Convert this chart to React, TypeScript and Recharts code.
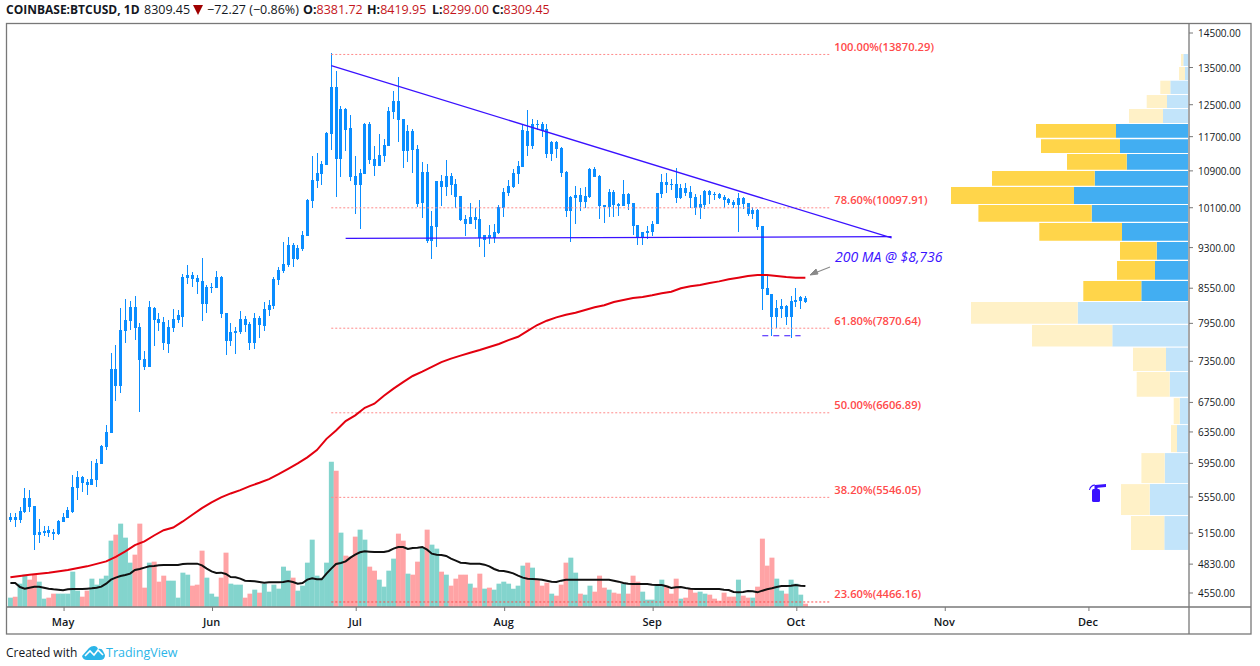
import {
    ComposedChart,
    Bar,
    Line,
    Cell,
    XAxis,
    YAxis,
    ReferenceLine,
    ReferenceArea,
} from "recharts"

// ─── Data ────────────────────────────────────────────────────────────────────

const START_DAY = Date.UTC(2019, 3, 20)
const DAY_COUNT = 247
const DAYS = Array.from({ length: DAY_COUNT }, (_, i) => new Date(START_DAY + i * 86400000).toISOString().slice(0, 10))

const MONTH_TICKS = ["2019-05-01", "2019-06-01", "2019-07-01", "2019-08-01", "2019-09-01", "2019-10-01", "2019-11-01", "2019-12-01"]
const MONTH_NAMES = ["May", "Jun", "Jul", "Aug", "Sep", "Oct", "Nov", "Dec"]

const PRICE_TICKS = [14500, 13500, 12500, 11700, 10900, 10100, 9300, 8550, 7950, 7350, 6750, 6350, 5950, 5550, 5150, 4830, 4550]

const HIGH = [
    5368, 5368, 5432, 5653, 5630, 5447, 5302, 5226, 5226, 5192,
    5291, 5368, 5435, 5808, 5856, 5796, 5760, 5978, 6003, 6180,
    6441, 7476, 7601, 8207, 8361, 8327, 8413, 7955, 7508, 8327,
    8224, 8122, 8055, 8005, 8190, 8173, 8805, 8971, 8842, 8787,
    9102, 8607, 8642, 8860, 8769, 8122, 7955, 7890, 8156, 8072,
    7972, 8122, 8072, 8310, 8344, 8751, 8934, 9408, 9506, 9388,
    9350, 9625, 10284, 11241, 11311, 11125, 11814, 13912, 13404, 12467,
    12416, 12236, 11241, 10943, 12035, 12060, 11476, 11765, 11642, 12441,
    12860, 13238, 12136, 11986, 11887, 11500, 11102, 11056, 10032, 10674,
    10808, 11149, 10852, 10719, 10348, 9949, 10199, 10095, 10263, 9546,
    9745, 9765, 10157, 10521, 10697, 10943, 11125, 11986, 12364, 12136,
    12110, 12060, 12010, 11595, 11595, 11453, 10897, 10348, 10565, 10521,
    10543, 10965, 10988, 10808, 10157, 10499, 10477, 10199, 10697, 10412,
    10199, 9745, 9605, 9725, 9826, 10412, 10830, 10852, 10719, 10965,
    10608, 10630, 10565, 10391, 10370, 10477, 10477, 10434, 10412, 10370,
    10306, 10263, 10412, 10327, 10199, 10115, 10074, 9725, 8769, 8448,
    8344, 8361, 8258, 8413, 8553, 8413, 8420,
]

const BODY_HIGH = [
    5324, 5324, 5390, 5537, 5537, 5447, 5160, 5171, 5181, 5160,
    5280, 5324, 5401, 5665, 5784, 5784, 5724, 5760, 5954, 6167,
    6348, 7233, 7233, 7841, 8005, 8224, 8224, 7890, 7384, 8224,
    8207, 8022, 7972, 7890, 8022, 8089, 8751, 8787, 8787, 8733,
    8678, 8571, 8571, 8751, 8751, 8122, 7808, 7825, 8022, 8022,
    7939, 8039, 8039, 8190, 8258, 8714, 8879, 8990, 9350, 9350,
    9292, 9546, 10263, 10697, 10852, 11056, 11789, 12967, 12967, 12390,
    12390, 11912, 10785, 10852, 12010, 12010, 11172, 11265, 11500, 12338,
    12596, 12596, 12136, 11838, 11838, 11405, 10875, 10875, 9725, 10674,
    10674, 10785, 10785, 10608, 10348, 9867, 9908, 9908, 9867, 9546,
    9546, 9605, 10115, 10434, 10565, 10852, 11011, 11863, 11838, 12010,
    12010, 12010, 11887, 11571, 11571, 11429, 10875, 10327, 10370, 10370,
    10348, 10943, 10943, 10785, 10157, 10434, 10434, 10178, 10391, 10391,
    10199, 9745, 9605, 9625, 9765, 10412, 10652, 10652, 10608, 10608,
    10521, 10521, 10434, 10327, 10178, 10456, 10456, 10391, 10391, 10327,
    10284, 10220, 10306, 10306, 10199, 10053, 10053, 9725, 8553, 8448,
    8207, 8241, 8241, 8327, 8344, 8396, 8382,
]

const BODY_LOW = [
    5291, 5291, 5291, 5376, 5435, 5129, 5129, 5147, 5150, 5140,
    5140, 5269, 5313, 5379, 5653, 5712, 5689, 5689, 5748, 5942,
    6154, 6339, 6983, 6983, 7825, 7989, 7874, 7369, 7263, 7263,
    8005, 7955, 7633, 7617, 7874, 8005, 8055, 8733, 8714, 8660,
    8275, 8275, 8553, 8553, 8105, 7665, 7665, 7792, 7808, 7923,
    7633, 7633, 7923, 7906, 8173, 8241, 8696, 8860, 8971, 9083,
    9083, 9273, 9526, 10242, 10674, 10830, 11034, 11765, 11172, 11172,
    11863, 10763, 10586, 10586, 10830, 11149, 11011, 11011, 11241, 11476,
    12313, 12110, 11358, 11358, 11382, 10178, 10199, 9428, 9428, 9705,
    10543, 10543, 10586, 10327, 9847, 9765, 9765, 9847, 9487, 9447,
    9487, 9487, 9585, 10095, 10412, 10543, 10830, 10988, 11476, 11476,
    11986, 11838, 11288, 11288, 11405, 10852, 10032, 10032, 10306, 10220,
    10220, 10327, 10763, 10136, 10115, 10115, 10157, 10136, 10136, 10178,
    9725, 9506, 9506, 9585, 9605, 9765, 10391, 10586, 10586, 10306,
    10306, 10412, 10306, 10095, 10095, 10157, 10370, 10370, 10306, 10263,
    10199, 10157, 10157, 10178, 9970, 9970, 9705, 8536, 8431, 8055,
    8055, 8190, 8055, 8055, 8310, 8327, 8309,
]

const LOW = [
    5275, 5219, 5258, 5368, 5379, 4974, 5045, 5119, 5108, 5076,
    5129, 5269, 5313, 5368, 5514, 5607, 5572, 5689, 5665, 5942,
    6116, 6339, 6769, 6882, 7633, 7841, 7680, 6617, 7218, 7263,
    7586, 7825, 7523, 7476, 7808, 7955, 7890, 8624, 8571, 8448,
    7989, 8122, 8465, 8553, 8039, 7446, 7586, 7461, 7776, 7808,
    7523, 7539, 7712, 7825, 8072, 8190, 8607, 8823, 8934, 8934,
    9064, 9234, 9526, 10095, 10521, 10586, 11034, 11382, 10327, 10763,
    11358, 10674, 9970, 9665, 10830, 11056, 10785, 11011, 11102, 11476,
    12136, 11571, 10965, 11102, 10852, 10115, 9888, 9388, 9083, 9311,
    10136, 10348, 10370, 10095, 9826, 9526, 9765, 9665, 9311, 9121,
    9369, 9388, 9565, 9908, 10348, 10521, 10608, 10988, 11241, 11405,
    11863, 11694, 11195, 11125, 11195, 10763, 9908, 9408, 9765, 10032,
    10095, 10306, 10763, 9867, 9785, 9908, 9908, 9929, 10136, 10053,
    9546, 9350, 9350, 9467, 9526, 9765, 10306, 10412, 10477, 10199,
    10284, 10348, 10095, 9949, 9867, 10074, 10178, 10263, 10284, 10095,
    10157, 10095, 9605, 10074, 9929, 9867, 9645, 8173, 8431, 7744,
    7874, 8039, 7923, 7712, 8224, 8190, 8299,
]

// volume in hundreds of BTC
const VOLUME = [
    28, 31, 70, 97, 82, 97, 76, 25, 28, 40,
    40, 40, 40, 106, 49, 31, 49, 85, 67, 85,
    94, 199, 217, 250, 208, 133, 157, 250, 58, 133,
    136, 76, 94, 79, 79, 28, 103, 97, 64, 67,
    169, 88, 40, 31, 88, 163, 70, 67, 67, 28,
    40, 52, 43, 70, 46, 67, 55, 121, 109, 88,
    49, 64, 133, 202, 94, 88, 133, 436, 409, 223,
    154, 151, 211, 232, 202, 121, 109, 82, 61, 109,
    145, 220, 199, 100, 97, 136, 177, 232, 187, 175,
    106, 97, 64, 85, 97, 97, 70, 58, 100, 55,
    58, 52, 70, 76, 70, 55, 64, 124, 133, 118,
    82, 64, 73, 40, 34, 67, 133, 148, 103, 40,
    37, 64, 46, 94, 58, 52, 43, 40, 70, 40,
    94, 76, 46, 22, 22, 64, 82, 64, 40, 85,
    25, 28, 55, 43, 46, 40, 37, 25, 19, 43,
    31, 31, 82, 34, 28, 28, 61, 205, 124, 148,
    85, 49, 40, 82, 70, 37, 10,
]

const VOLUME_UP = [
    1, 0, 1, 1, 0, 0, 1, 1, 0, 0,
    1, 1, 1, 1, 1, 0, 0, 1, 1, 1,
    1, 1, 0, 1, 1, 1, 0, 0, 0, 1,
    0, 0, 0, 1, 1, 1, 1, 1, 0, 0,
    0, 1, 1, 1, 0, 0, 1, 1, 1, 0,
    0, 1, 0, 1, 1, 1, 1, 1, 1, 0,
    1, 1, 1, 1, 1, 1, 1, 1, 0, 1,
    0, 0, 0, 1, 1, 0, 0, 1, 1, 1,
    1, 0, 0, 1, 0, 0, 1, 0, 1, 1,
    0, 1, 0, 0, 0, 0, 1, 0, 0, 1,
    0, 1, 1, 1, 1, 1, 1, 1, 0, 1,
    0, 0, 0, 1, 0, 0, 0, 1, 1, 0,
    1, 1, 0, 0, 0, 1, 0, 0, 1, 0,
    0, 0, 1, 1, 1, 1, 1, 0, 0, 0,
    1, 0, 0, 0, 1, 1, 0, 0, 0, 0,
    0, 0, 1, 0, 0, 1, 0, 0, 0, 0,
    1, 1, 0, 1, 1, 1, 0,
]

const VOLUME_MA = [
    72, 72, 60, 55, 58, 61, 61, 58, 55, 53,
    52, 50, 53, 54, 54, 54, 55, 56, 58, 61,
    70, 82, 88, 93, 96, 100, 111, 114, 118, 122,
    123, 125, 126, 126, 126, 126, 129, 130, 130, 130,
    125, 115, 107, 102, 103, 99, 90, 89, 85, 79,
    78, 77, 75, 73, 74, 74, 74, 75, 78, 75,
    70, 72, 82, 86, 83, 83, 100, 115, 129, 132,
    137, 148, 157, 164, 167, 166, 165, 165, 165, 168,
    175, 180, 180, 174, 177, 178,
    180, 172, 160, 157, 156, 153, 145, 139, 133, 132,
    130, 130, 130, 127, 122, 114, 109, 108, 105, 101,
    94, 88, 85, 84, 83, 82, 79, 76, 75, 79,
    82, 82, 82, 82, 82, 82, 82, 82, 82, 82,
    79, 76, 72, 70, 69, 69, 69, 69, 67, 66,
    66, 62, 57, 59, 60, 57, 55, 54, 54, 54,
    54, 54, 54, 52, 51, 45, 44, 45, 48, 47,
    44, 49, 53, 56, 60, 63, 63, 64, 66, 64,
    63,
]

const MA200_DAYS = [
    0, 4, 8, 12, 16, 20, 22, 24, 26, 28, 30, 32, 34, 36, 38, 40, 42, 44, 46, 48,
    50, 52, 54, 56, 58, 60, 62, 64, 66, 68, 70, 72, 74, 76, 78, 80, 82, 84, 86, 88,
    90, 92, 94, 96, 98, 100, 102, 104, 106, 108, 110, 112, 114, 116, 118, 120, 122, 124, 126, 128,
    130, 132, 134, 136, 138, 140, 142, 144, 146, 148, 150, 152, 154, 156, 158, 160, 162, 164, 166,
]
const MA200 = [
    4700, 4725, 4745, 4771, 4808, 4858, 4904, 4959, 5024, 5063, 5125, 5181, 5210, 5276, 5350, 5424, 5488, 5545, 5591, 5630,
    5677, 5716, 5760, 5820, 5884, 5950, 6024, 6116, 6260, 6370, 6495, 6572, 6676, 6732, 6845, 6945, 7040, 7130, 7195, 7265,
    7338, 7391, 7436, 7480, 7523, 7570, 7617, 7680, 7733, 7829, 7923, 7994, 8050, 8094, 8127, 8173, 8219, 8253, 8310, 8344,
    8379, 8396, 8425, 8460, 8488, 8548, 8584, 8607, 8642, 8672, 8709, 8738, 8769, 8787, 8787, 8769, 8751, 8738, 8736,
]

const FIB_PRICES = [13870.29, 10097.91, 7870.64, 6606.89, 5546.05, 4466.16]
const FIB_LABELS = ["100.00%", "78.60%", "61.80%", "50.00%", "38.20%", "23.60%"]

// visible range volume profile, bins from the top down
const VP_HIGH = [13884, 13515, 13137, 12753, 12390, 12010, 11640, 11288, 10897, 10543, 10157, 9785, 9408, 9045, 8678, 8310, 7923, 7560, 7188, 6811, 6441, 6078, 5700, 5335]
const VP_LOW = [13543, 13156, 12780, 12415, 12035, 11675, 11311, 10927, 10571, 10178, 9812, 9434, 9070, 8702, 8327, 7944, 7578, 7203, 6830, 6454, 6090, 5712, 5347, 4974]
const VP_UP = [4.7, 3, 17.7, 21, 25, 72, 68, 61.3, 93.3, 114, 96.3, 66, 31.3, 33, 46.7, 110.3, 75.7, 22, 18.3, 8.3, 11, 23.3, 38.3, 23.7]
const VP_DOWN = [2.3, 6, 10, 20.3, 34, 80, 79, 59.7, 102.7, 123, 113.3, 82.7, 36.7, 38, 58, 106.7, 80.3, 33, 33, 6, 6, 23.3, 28.7, 33.3]
const VP_VALUE_AREA_FIRST = 5
const VP_VALUE_AREA_LAST = 14

const TABLE = DAYS.map((day, i) => ({
    day,
    high: HIGH[i] ?? null,
    low: LOW[i] ?? null,
    bodyHigh: BODY_HIGH[i] ?? null,
    bodyLow: BODY_LOW[i] ?? null,
    volume: VOLUME[i] ?? null,
    volumeMa: VOLUME_MA[i] ?? null,
    ma200: MA200_DAYS.includes(i) ? MA200[MA200_DAYS.indexOf(i)] : null,
}))

// ─── Helpers ─────────────────────────────────────────────────────────────────

const FONT = "'Open Sans', sans-serif"
const CANDLE = "#0a8dff"
const VIOLET = "#3a12ff"
const FRAME = "#787878"

function candlePart(p: any, w: number) {
    if (p.payload.high == null) return null
    const left = Math.round(p.x + p.width / 2 - 1.5)
    const x = w === 3 ? left : left + 1
    return <rect x={x} y={p.y} width={w} height={Math.max(Math.abs(p.height), 1)} fill={CANDLE} shapeRendering="crispEdges" />
}

function PriceTick({ y, payload }: any) {
    return (
        <g>
            <line x1={1189} x2={1193} y1={y} y2={y} stroke={FRAME} />
            <text x={1198} y={y + 4} fontSize={10} fontFamily={FONT} fill="#131722">
                {payload.value.toFixed(2)}
            </text>
        </g>
    )
}

function MonthTick({ x, payload }: any) {
    const name = MONTH_NAMES[MONTH_TICKS.indexOf(payload.value)]
    return (
        <g>
            <line x1={x + 1} x2={x + 1} y1={607} y2={611} stroke={FRAME} />
            <text x={x} y={626} fontSize={11} fontWeight={600} textAnchor="middle" fontFamily={FONT} fill="#131722">
                {name}
            </text>
        </g>
    )
}

function fibLabel(text: string) {
    return (p: any) => (
        <text x={p.viewBox.x + p.viewBox.width + 5} y={p.viewBox.y - 3.5} fontSize={11.2} fontFamily={FONT} fontWeight={600} fill="#ff4a4a">
            {text}
        </text>
    )
}

const HEADER_STYLE = { position: "absolute", top: 1, fontSize: 12.5, whiteSpace: "nowrap", lineHeight: "18px" } as const

// ─── Chart ───────────────────────────────────────────────────────────────────

export default function App() {
    return (
        <div style={{ position: "absolute", left: 0, top: 0, width: 1260, height: 666, background: "#fff", fontFamily: FONT, color: "#131722" }}>
            <ComposedChart
                width={1260}
                height={666}
                data={TABLE}
                margin={{ top: 23.5, right: 9.1, bottom: 32, left: 8 }}
                barCategoryGap={0}
                barGap={0}
            >
                <XAxis
                    xAxisId="time"
                    dataKey="day"
                    type="category"
                    scale="band"
                    ticks={MONTH_TICKS}
                    interval={0}
                    height={27}
                    axisLine={false}
                    tickLine={false}
                    tick={<MonthTick />}
                />
                <XAxis xAxisId="wick" dataKey="day" type="category" scale="band" hide />
                <XAxis xAxisId="body" dataKey="day" type="category" scale="band" hide />
                <XAxis xAxisId="profile" dataKey="profile" type="number" domain={[-2.9, 1180]} reversed hide allowDataOverflow />
                <YAxis
                    yAxisId="price"
                    orientation="right"
                    scale="log"
                    type="number"
                    domain={[4420, 14788]}
                    allowDataOverflow
                    ticks={PRICE_TICKS}
                    interval={0}
                    width={60}
                    axisLine={false}
                    tickLine={false}
                    tick={<PriceTick />}
                />
                <YAxis yAxisId="volume" type="number" domain={[0, 1750]} hide />

                {VP_HIGH.map((high, i) => {
                    const active = i >= VP_VALUE_AREA_FIRST && i <= VP_VALUE_AREA_LAST
                    return [
                        <ReferenceArea key={`u${i}`} xAxisId="profile" yAxisId="price" x1={0} x2={VP_UP[i]} y1={VP_LOW[i]} y2={high} fill={active ? "#42aef2" : "#c2e4fa"} fillOpacity={1} stroke="none" ifOverflow="visible" />,
                        <ReferenceArea key={`d${i}`} xAxisId="profile" yAxisId="price" x1={VP_UP[i]} x2={VP_UP[i] + VP_DOWN[i]} y1={VP_LOW[i]} y2={high} fill={active ? "#ffd54a" : "#fff1c7"} fillOpacity={1} stroke="none" ifOverflow="visible" />,
                    ]
                })}

                <Bar xAxisId="time" yAxisId="volume" dataKey="volume" isAnimationActive={false}>
                    {TABLE.map((row, i) => (
                        <Cell key={row.day} fill={VOLUME_UP[i] ? "#83d4cd" : "#ffa3a5"} />
                    ))}
                </Bar>
                <Line xAxisId="time" yAxisId="volume" dataKey="volumeMa" stroke="#111" strokeWidth={2} dot={false} activeDot={false} isAnimationActive={false} />

                {FIB_PRICES.map((price, i) => (
                    <ReferenceLine
                        key={price}
                        xAxisId="time"
                        yAxisId="price"
                        segment={[{ x: DAYS[67], y: price }, { x: DAYS[171], y: price }]}
                        stroke={i === 5 ? "#ff4a4a" : "#ff8a8a"}
                        strokeDasharray="2 2"
                        ifOverflow="visible"
                        label={fibLabel(`${FIB_LABELS[i]}(${price.toFixed(2)})`)}
                    />
                ))}

                <Bar xAxisId="wick" yAxisId="price" dataKey={(d: any) => (d.high == null ? null : [d.low, d.high])} barSize={1} isAnimationActive={false} shape={(p: any) => candlePart(p, 1)} />
                <Bar xAxisId="body" yAxisId="price" dataKey={(d: any) => (d.high == null ? null : [d.bodyLow, d.bodyHigh])} barSize={3} isAnimationActive={false} shape={(p: any) => candlePart(p, 3)} />

                <Line xAxisId="time" yAxisId="price" dataKey="ma200" stroke="#e3000f" strokeWidth={2} dot={false} activeDot={false} connectNulls isAnimationActive={false} />

                <ReferenceLine xAxisId="time" yAxisId="price" segment={[{ x: DAYS[67], y: 13551 }, { x: DAYS[184], y: 9487 }]} stroke={VIOLET} strokeWidth={1.3} ifOverflow="visible" />
                <ReferenceLine xAxisId="time" yAxisId="price" segment={[{ x: DAYS[70], y: 9481 }, { x: DAYS[184], y: 9512 }]} stroke={VIOLET} strokeWidth={1.3} ifOverflow="visible" />
                <ReferenceLine xAxisId="time" yAxisId="price" segment={[{ x: DAYS[157], y: 7749 }, { x: DAYS[165], y: 7749 }]} stroke={VIOLET} strokeWidth={1.2} strokeDasharray="6 5" ifOverflow="visible" />
            </ComposedChart>

            {/* frame, arrow, icon and logo */}
            <svg width={1260} height={666} style={{ position: "absolute", left: 0, top: 0, pointerEvents: "none" }}>
                <rect x={6.5} y={23.5} width={1244.5} height={610.5} fill="none" stroke={FRAME} strokeWidth={1.3} />
                <line x1={1189} x2={1189} y1={23.5} y2={634} stroke={FRAME} strokeWidth={1.3} />
                <line x1={6.5} x2={1251} y1={607} y2={607} stroke={FRAME} strokeWidth={1.3} />

                <line x1={830} y1={267} x2={811} y2={274.5} stroke="#8a8a8a" strokeWidth={1.2} />
                <path d="M810 275 L816 269 L818 274 Z" fill="#8a8a8a" stroke="#8a8a8a" />
                <text x={835} y={262} fontSize={14} fontStyle="italic" fontFamily={FONT} fill={VIOLET}>
                    200 MA @ $8,736
                </text>

                <g fill={VIOLET}>
                    <rect x={1092} y={489} width={8} height={13} rx={1.5} />
                    <rect x={1094.5} y={486} width={3} height={4} />
                    <path d="M1095 485 L1106 484 L1106 487 L1095 488 Z" />
                    <path d="M1089 490 Q1090 484.5 1095 484.5 L1095 485.8 Q1091 486 1090 490 Z" />
                </g>

                <path d="M82 656 L89 648 Q91 646 94 646 Q97 646 98 649 Q102 648 103 651 L105 655 Q105 660 100 660 L87 660 Q83 660 82 656 Z" fill="#2bb5e8" />
                <path d="M85 656 L90 651 L94 655 L98 650 L103 655" fill="none" stroke="#fff" strokeWidth={1.6} />
            </svg>

            {/* header */}
            <div style={{ ...HEADER_STYLE, left: 6, fontSize: 12 }}><b>COINBASE:BTCUSD, 1D</b></div>
            <div style={{ ...HEADER_STYLE, left: 144 }}>8309.45</div>
            <svg width={11} height={11} style={{ position: "absolute", left: 193, top: 5 }}>
                <path d="M0 0 L10 0 L5 10 Z" fill="#a00000" />
            </svg>
            <div style={{ ...HEADER_STYLE, left: 207 }}>−72.27 (−0.86%)</div>
            <div style={{ ...HEADER_STYLE, left: 303 }}><b>O:</b><span style={{ color: "#c4161c" }}>8381.72</span></div>
            <div style={{ ...HEADER_STYLE, left: 367 }}><b>H:</b><span style={{ color: "#c4161c" }}>8419.95</span></div>
            <div style={{ ...HEADER_STYLE, left: 432 }}><b>L:</b><span style={{ color: "#c4161c" }}>8299.00</span></div>
            <div style={{ ...HEADER_STYLE, left: 492 }}><b>C:</b><span style={{ color: "#c4161c" }}>8309.45</span></div>

            {/* footer */}
            <div style={{ ...HEADER_STYLE, left: 6, top: 644, fontSize: 12 }}>Created with</div>
            <div style={{ ...HEADER_STYLE, left: 106, top: 644, color: "#2bb5e8" }}>TradingView</div>
        </div>
    )
}
